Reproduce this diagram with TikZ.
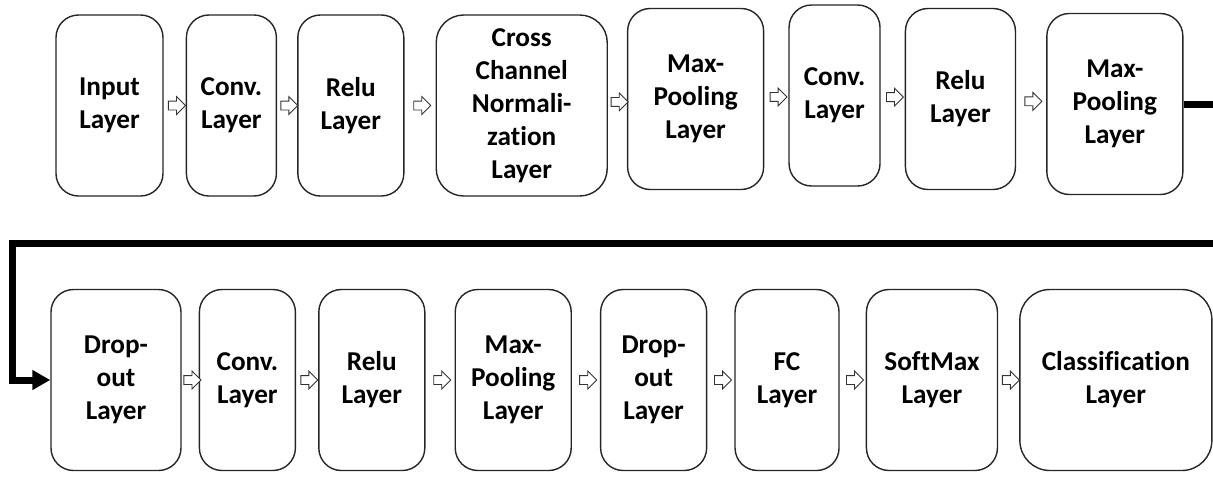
\documentclass[tikz,border=0pt]{standalone}
\usepackage{fontspec}
\setmainfont{Carlito}[Ligatures=CommonOff]
\usetikzlibrary{shapes.arrows, arrows.meta, positioning}

\begin{document}
\begin{tikzpicture}[
	node distance=0.4cm,
	layer/.style={rectangle, rounded corners=0.45cm, draw=black!85, line width=0.8pt, fill=white, minimum height=3.62cm, text centered, align=center, inner sep=1pt, font=\fontsize{15.5}{18.8}\selectfont\bfseries},
	hollow/.style={single arrow, draw=black!80, fill=white, line width=0.5pt, inner xsep=0pt, inner ysep=0.08cm, minimum height=0.34cm, single arrow head extend=0.09cm},
	flow/.style={-{Triangle[length=0.36cm, width=0.38cm]}, line width=0.14cm}
	]

	\useasboundingbox (0,0) rectangle (24.26,-9.52);

	% Nodes, first row
	\node (in) [layer, minimum width=2.14cm] at (2.19,-2.11) {Input\\Layer};
	\node (conv1) [layer, minimum width=1.8cm, right=0.44cm of in] {Conv.\\Layer};
	\node (relu1) [layer, minimum width=2.12cm, right=0.4cm of conv1] {Relu\\Layer};
	\node (norm) [layer, minimum width=3.42cm, rounded corners=0.55cm, right=0.62cm of relu1] {Cross\\Channel\\Normali-\\zation\\Layer};
	\node (pool1) [layer, minimum width=2.72cm, right=0.38cm of norm, yshift=0.13cm] {Max-\\Pooling\\Layer};
	\node (conv2) [layer, minimum width=1.82cm, right=0.48cm of pool1, yshift=0.07cm] {Conv.\\Layer};
	\node (relu2) [layer, minimum width=2.2cm, right=0.48cm of conv2, yshift=-0.07cm] {Relu\\Layer};
	\node (pool2) [layer, minimum width=2.72cm, right=0.6cm of relu2, yshift=-0.1cm] {Max-\\Pooling\\Layer};

	% Nodes, second row
	\node (drop1) [layer, minimum width=2.6cm] at (2.32,-7.6) {Drop-\\out\\Layer};
	\node (conv3) [layer, minimum width=1.92cm, right=0.34cm of drop1] {Conv.\\Layer};
	\node (relu3) [layer, minimum width=2.12cm, right=0.44cm of conv3] {Relu\\Layer};
	\node (pool3) [layer, minimum width=2.32cm, right=0.58cm of relu3] {Max-\\Pooling\\Layer};
	\node (drop2) [layer, minimum width=2.12cm, right=0.56cm of pool3] {Drop-\\out\\Layer};
	\node (fc) [layer, minimum width=2.08cm, right=0.54cm of drop2] {FC\\Layer};
	\node (soft) [layer, minimum width=2.62cm, right=0.52cm of fc] {SoftMax\\Layer};
	\node (cls) [layer, minimum width=3.84cm, rounded corners=0.6cm, right=0.42cm of soft] {Classification\\Layer};

	% Arrows
	\path (in) -- node[hollow] {} (conv1);
	\path (conv1) -- node[hollow] {} (relu1);
	\path (relu1) -- node[hollow] {} (norm);
	\path (norm) -- node[hollow] {} (pool1);
	\path (pool1) -- node[hollow] {} (conv2);
	\path (conv2) -- node[hollow] {} (relu2);
	\path (relu2) -- node[hollow] {} (pool2);
	\path (drop1) -- node[hollow] {} (conv3);
	\path (conv3) -- node[hollow] {} (relu3);
	\path (relu3) -- node[hollow] {} (pool3);
	\path (pool3) -- node[hollow] {} (drop2);
	\path (drop2) -- node[hollow] {} (fc);
	\path (fc) -- node[hollow] {} (soft);
	\path (soft) -- node[hollow] {} (cls);

	% Link between the rows
	\coordinate (back) at (0.24,-4.86);
	\draw[flow] (pool2.east) -- ++(0.72,0) |- (back) |- (drop1.west);

\end{tikzpicture}
\end{document}
